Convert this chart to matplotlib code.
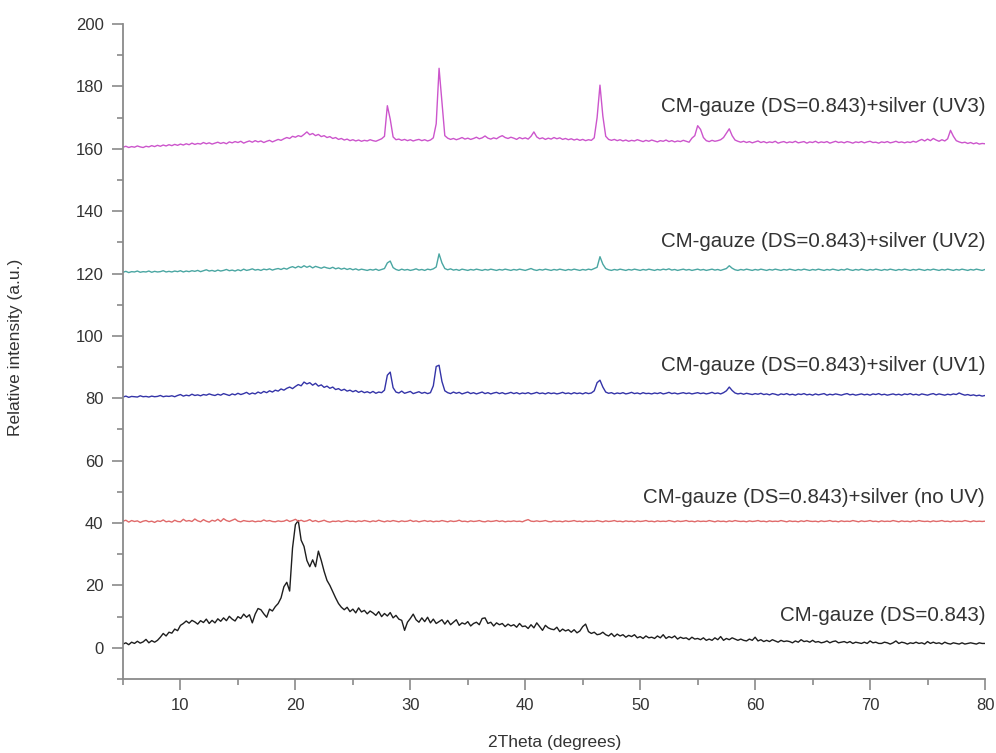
import numpy as np
import matplotlib
matplotlib.use("Agg")
import matplotlib.pyplot as plt
from matplotlib.ticker import MultipleLocator

plt.rcParams['font.family'] = ['Liberation Sans', 'DejaVu Sans']

# XRD scans, 5-80 deg in 0.25 deg steps (4 values per degree, 2 degrees per row)
two_theta = np.linspace(5, 80, 301)

gauze = [
    1.2, 1.6, 1.0, 1.8, 1.4, 2.1, 1.5, 1.9,
    2.7, 1.6, 2.3, 1.8, 2.4, 3.4, 4.6, 3.8,
    5.0, 4.7, 6.0, 5.5, 7.2, 7.8, 8.6, 7.9,
    8.8, 8.3, 7.6, 8.7, 8.1, 9.2, 7.8, 8.8,
    8.0, 9.3, 8.5, 9.6, 8.7, 10.1, 9.2, 8.6,
    10.0, 9.4, 10.8, 9.8, 10.6, 8.0, 10.8, 12.6,
    12.2, 10.9, 9.8, 12.4, 11.8, 13.2, 14.2, 16.0,
    19.6, 21.0, 18.2, 32.0, 39.5, 40.8, 34.5, 32.5,
    28.0, 26.0, 28.2, 26.0, 31.0, 28.0, 24.5, 21.6,
    20.0, 18.0, 16.0, 14.2, 13.0, 12.2, 13.0, 11.6,
    12.4, 11.2, 12.8, 11.5, 12.0, 10.9, 11.8, 11.2,
    10.4, 11.6, 10.0, 11.0, 10.2, 11.3, 9.6, 10.4,
    9.2, 8.8, 5.6, 8.2, 9.4, 10.8, 9.0, 8.2,
    9.6, 8.4, 9.8, 8.0, 9.2, 7.8, 8.4, 9.0,
    7.6, 8.8, 7.4, 8.2, 9.0, 7.2, 8.0, 7.6,
    8.4, 7.0, 7.8, 8.2, 7.4, 9.4, 9.6, 7.8,
    8.2, 7.0, 8.0, 7.4, 7.8, 6.8, 7.6, 7.0,
    7.4, 6.6, 7.8, 6.8, 7.0, 6.2, 7.4, 6.4,
    8.0, 6.8, 5.6, 7.2, 6.4, 6.0, 5.8, 6.6,
    5.2, 6.0, 5.4, 5.8, 5.0, 5.8, 4.8, 5.4,
    6.8, 7.6, 5.2, 4.6, 5.0, 4.2, 4.4, 5.0,
    4.2, 3.8, 4.6, 3.6, 4.4, 3.8, 4.2, 3.4,
    4.0, 3.6, 4.2, 3.2, 3.6, 3.0, 3.8, 3.2,
    3.4, 3.0, 3.8, 3.2, 4.2, 3.0, 3.6, 3.2,
    3.8, 2.8, 3.4, 3.0, 3.2, 2.6, 3.4, 2.8,
    3.0, 2.6, 3.2, 2.4, 2.8, 2.4, 3.2, 2.6,
    3.6, 2.4, 3.0, 2.6, 3.2, 2.8, 2.4, 2.8,
    2.4, 2.2, 2.8, 2.4, 3.4, 2.2, 2.6, 2.0,
    2.4, 2.0, 2.6, 2.2, 1.8, 2.4, 2.0, 2.2,
    2.0, 1.6, 2.2, 1.8, 2.6, 2.0, 2.2, 1.8,
    2.4, 1.8, 2.0, 1.6, 1.8, 2.2, 1.6, 2.0,
    2.2, 1.6, 1.8, 2.0, 1.6, 2.0, 1.4, 1.8,
    1.6, 1.4, 1.8, 1.4, 2.2, 1.6, 1.8, 1.4,
    1.4, 1.8, 1.6, 1.2, 1.6, 2.2, 1.4, 1.8,
    1.6, 1.2, 1.6, 1.4, 1.8, 1.4, 1.6, 1.2,
    2.0, 1.4, 1.8, 1.4, 1.6, 1.2, 1.8, 1.4,
    1.2, 1.6, 1.4, 1.2, 1.6, 1.2, 1.4, 1.6,
    1.4, 1.2, 1.6, 1.4, 1.4,
]

silver_no_uv = [
    40.6, 40.9, 40.3, 40.8, 40.5, 40.7, 40.2, 40.6,
    40.8, 40.4, 40.6, 40.2, 40.7, 40.5, 41.0, 40.4,
    40.6, 40.3, 40.9, 40.5, 40.4, 41.2, 40.6, 40.8,
    40.5, 41.3, 40.7, 40.4, 41.1, 40.6, 40.3, 40.9,
    40.6, 41.2, 40.5, 41.4, 40.8, 40.5, 40.9, 41.3,
    40.6, 40.4, 40.8, 40.6, 40.5, 40.7, 40.4, 40.6,
    40.5, 41.0, 40.6, 40.8, 40.5, 40.4, 40.7, 40.5,
    40.6, 41.0, 40.5, 40.8, 41.2, 40.6, 40.9, 40.5,
    40.7, 41.1, 40.5, 40.8, 40.4, 40.6, 40.9, 40.5,
    40.3, 40.6, 40.5, 40.7, 40.4, 40.6, 40.8, 40.5,
    40.6, 40.4, 40.7, 40.5, 40.8, 40.6, 40.4, 40.7,
    40.5, 40.9, 40.6, 40.4, 40.7, 40.5, 40.8, 40.6,
    40.4, 40.7, 40.5, 40.6, 40.9, 40.5, 40.7, 40.4,
    40.6, 40.8, 40.5, 40.7, 40.4, 40.6, 40.5, 40.8,
    40.6, 40.4, 40.7, 40.5, 40.6, 40.9, 40.5, 40.6,
    40.4, 40.7, 40.5, 40.6, 40.8, 40.5, 40.4, 40.7,
    40.5, 40.6, 40.8, 40.5, 40.7, 40.4, 40.6, 40.5,
    40.7, 40.5, 40.6, 40.4, 40.8, 41.1, 40.6, 40.5,
    40.7, 40.5, 40.6, 40.8, 40.5, 40.4, 40.7, 40.5,
    40.6, 40.4, 40.7, 40.5, 40.6, 40.8, 40.5, 40.6,
    40.4, 40.7, 40.5, 40.6, 40.5, 40.8, 40.6, 40.4,
    40.7, 40.5, 40.6, 40.8, 40.5, 40.6, 40.4, 40.7,
    40.5, 40.6, 40.4, 40.7, 40.5, 40.6, 40.8, 40.5,
    40.6, 40.4, 40.7, 40.5, 40.6, 40.5, 40.8, 40.6,
    40.4, 40.7, 40.5, 40.6, 40.8, 40.5, 40.6, 40.4,
    40.7, 40.5, 40.6, 40.5, 40.8, 40.6, 40.4, 40.7,
    40.5, 40.6, 40.4, 40.7, 40.5, 40.8, 40.6, 40.5,
    40.6, 40.4, 40.7, 40.5, 40.6, 40.8, 40.5, 40.6,
    40.4, 40.7, 40.5, 40.6, 40.5, 40.8, 40.6, 40.4,
    40.7, 40.5, 40.6, 40.4, 40.7, 40.5, 40.8, 40.6,
    40.5, 40.6, 40.4, 40.7, 40.5, 40.6, 40.8, 40.5,
    40.6, 40.4, 40.7, 40.5, 40.6, 40.5, 40.8, 40.6,
    40.4, 40.7, 40.5, 40.6, 40.8, 40.5, 40.6, 40.4,
    40.7, 40.5, 40.6, 40.5, 40.8, 40.6, 40.4, 40.7,
    40.5, 40.6, 40.4, 40.7, 40.5, 40.8, 40.6, 40.5,
    40.6, 40.4, 40.7, 40.5, 40.6, 40.8, 40.5, 40.6,
    40.4, 40.7, 40.5, 40.6, 40.5, 40.8, 40.6, 40.4,
    40.7, 40.5, 40.6, 40.5, 40.6,
]

silver_uv1 = [
    80.4, 80.7, 80.3, 80.6, 80.5, 80.4, 80.8, 80.5,
    80.6, 80.4, 80.7, 80.5, 80.6, 80.9, 80.5, 80.7,
    80.6, 80.8, 80.5, 80.9, 81.2, 80.7, 81.0, 80.8,
    81.3, 80.9, 81.1, 80.8, 81.2, 81.0, 81.4, 81.1,
    80.9, 81.3, 81.0, 81.5, 81.2, 80.9, 81.4, 81.1,
    81.6, 81.2, 81.5, 81.9, 81.3, 81.7, 81.4, 82.0,
    81.6, 82.2, 81.8, 82.4, 82.0, 82.6, 82.3, 83.0,
    82.6, 83.2, 83.6, 83.1, 83.8, 84.4, 84.0, 85.2,
    84.6, 85.0, 84.2, 84.8, 83.9, 84.3, 83.5, 83.9,
    83.2, 83.6, 82.8, 83.1, 82.5, 82.9, 82.3, 82.6,
    82.1, 82.5, 81.9, 82.3, 81.8, 82.1, 81.7, 82.2,
    81.6, 82.0, 81.8, 82.6, 87.4, 88.4, 83.4, 82.0,
    81.7, 82.3, 81.6, 81.9, 82.2, 81.5, 81.8, 82.1,
    81.6, 81.9, 81.5, 81.8, 84.0, 90.2, 90.6, 85.4,
    82.4, 81.8, 81.5, 82.0, 81.6, 81.9, 81.4, 81.7,
    82.0, 81.5, 81.8, 81.4, 81.7, 82.0, 81.5, 81.8,
    81.4, 81.7, 81.9, 81.5, 81.8, 81.4, 81.6, 81.9,
    81.5, 81.8, 81.4, 81.7, 81.5, 81.8, 81.4, 81.6,
    81.9, 81.5, 81.7, 81.4, 81.8, 81.5, 81.7, 81.4,
    81.6, 81.9, 81.5, 81.7, 81.4, 81.8, 81.5, 81.7,
    81.4, 81.8, 81.5, 81.7, 82.4, 85.0, 85.8, 83.6,
    82.0, 81.6, 81.8, 81.4, 81.7, 81.5, 81.8, 81.4,
    81.6, 81.9, 81.5, 81.7, 81.4, 81.8, 81.5, 81.6,
    81.4, 81.7, 81.5, 81.8, 81.4, 81.6, 81.9, 81.5,
    81.7, 81.4, 81.6, 81.8, 81.5, 81.7, 81.4, 81.6,
    81.8, 81.5, 81.7, 81.4, 81.6, 81.9, 81.5, 81.7,
    81.4, 81.8, 82.4, 83.6, 82.5, 81.7, 81.4, 81.6,
    81.3, 81.6, 81.4, 81.2, 81.5, 81.3, 81.6, 81.2,
    81.4, 81.1, 81.5, 81.3, 81.0, 81.4, 81.2, 81.5,
    81.1, 81.3, 81.0, 81.4, 81.2, 81.5, 81.1, 81.3,
    81.0, 81.4, 81.1, 81.3, 81.5, 81.0, 81.3, 81.1,
    81.4, 81.2, 81.0, 81.3, 81.5, 81.1, 81.3, 81.0,
    81.2, 81.4, 81.1, 81.3, 81.0, 81.4, 81.2, 81.5,
    81.1, 81.3, 81.0, 81.2, 81.4, 81.1, 81.3, 81.0,
    81.4, 81.2, 81.5, 81.1, 81.3, 81.0, 81.4, 81.2,
    81.0, 81.3, 81.5, 81.1, 81.4, 81.2, 81.0, 81.3,
    81.1, 81.4, 81.2, 81.7, 81.3, 81.0, 81.2, 80.9,
    81.1, 80.8, 81.0, 80.7, 80.9,
]

silver_uv2 = [
    120.4, 120.7, 120.3, 120.6, 120.5, 120.8, 120.4, 120.6,
    120.5, 120.8, 120.4, 120.7, 120.5, 120.6, 120.9, 120.5,
    120.7, 120.5, 120.8, 120.6, 120.9, 120.5, 120.8, 120.6,
    120.9, 120.7, 121.0, 120.6, 120.9, 121.2, 120.8, 121.0,
    120.7, 121.1, 120.8, 121.0, 121.3, 120.9, 121.1, 120.8,
    121.2, 120.9, 121.4, 121.0, 121.2, 121.5, 121.1, 121.3,
    121.0, 121.4, 121.2, 121.5, 121.1, 121.4, 121.6, 121.3,
    121.7, 121.4, 121.9, 122.2, 121.8, 122.3, 121.9, 122.5,
    122.0, 122.4, 121.8, 122.3, 122.0, 121.7, 122.1, 121.8,
    121.6, 122.0, 121.5, 121.8, 121.4, 121.7, 121.3, 121.6,
    121.2, 121.5, 121.1, 121.4, 121.2, 121.0, 121.3, 121.1,
    121.4, 121.0, 121.3, 121.6, 123.4, 124.0, 121.9, 121.3,
    121.0, 121.4, 121.1, 121.3, 121.0, 121.2, 121.5, 121.1,
    121.3, 121.0, 121.4, 121.2, 121.5, 122.1, 126.3, 123.4,
    121.6, 121.2, 121.5, 121.1, 121.3, 121.0, 121.4, 121.2,
    121.0, 121.3, 121.1, 121.4, 121.2, 121.0, 121.3, 121.1,
    121.4, 121.2, 121.0, 121.3, 121.1, 121.4, 121.2, 121.0,
    121.3, 121.1, 121.4, 121.2, 121.0, 121.3, 121.6, 121.2,
    121.0, 121.3, 121.1, 121.4, 121.2, 121.0, 121.3, 121.1,
    121.4, 121.2, 121.0, 121.3, 121.1, 121.4, 121.2, 121.0,
    121.3, 121.1, 121.4, 121.2, 121.6, 122.0, 125.4, 123.0,
    121.6, 121.2, 121.0, 121.3, 121.1, 121.4, 121.2, 121.0,
    121.3, 121.1, 121.4, 121.2, 121.0, 121.3, 121.1, 121.4,
    121.2, 121.0, 121.3, 121.1, 121.4, 121.2, 121.5, 121.1,
    121.3, 121.0, 121.2, 121.4, 121.1, 121.3, 121.0, 121.2,
    121.4, 121.1, 121.3, 121.0, 121.2, 121.4, 121.1, 121.3,
    121.0, 121.3, 121.6, 122.5, 121.7, 121.2, 121.0, 121.3,
    121.1, 121.4, 121.2, 121.0, 121.3, 121.1, 121.4, 121.2,
    121.0, 121.3, 121.1, 121.4, 121.2, 121.0, 121.3, 121.1,
    121.4, 121.2, 121.0, 121.3, 121.1, 121.4, 121.2, 121.0,
    121.3, 121.1, 121.4, 121.2, 121.0, 121.3, 121.1, 121.4,
    121.2, 121.0, 121.3, 121.1, 121.5, 121.2, 121.0, 121.3,
    121.1, 121.4, 121.2, 121.0, 121.3, 121.1, 121.4, 121.2,
    121.0, 121.3, 121.1, 121.4, 121.2, 121.0, 121.3, 121.1,
    121.4, 121.2, 121.0, 121.3, 121.1, 121.4, 121.2, 121.0,
    121.3, 121.1, 121.4, 121.2, 121.0, 121.3, 121.1, 121.4,
    121.2, 121.0, 121.3, 121.1, 121.4, 121.2, 121.0, 121.3,
    121.1, 121.4, 121.2, 121.0, 121.3,
]

silver_uv3 = [
    160.5, 160.8, 160.4, 160.7, 160.5, 160.9, 160.6, 160.4,
    160.8, 160.6, 161.0, 160.7, 161.1, 160.8, 161.2, 160.9,
    161.3, 161.0, 161.4, 161.1, 161.5, 161.2, 161.6, 161.3,
    161.8, 161.4, 161.7, 161.5, 162.0, 161.6, 161.9, 161.5,
    161.8, 162.1, 161.7, 162.0, 161.6, 162.2, 161.9, 162.3,
    162.0, 162.4, 161.8, 162.2, 162.5, 162.1, 162.6, 162.2,
    162.5, 162.0, 162.4, 162.7, 162.2, 162.6, 163.0, 162.7,
    163.2, 163.6, 163.3, 164.0, 163.7, 164.2, 163.9, 164.6,
    165.4, 164.5, 164.9, 164.2, 164.6, 163.9, 164.2, 163.6,
    163.9, 163.3, 163.6, 163.0, 163.3, 162.8, 163.1, 162.6,
    162.9, 162.5, 162.8, 162.4, 162.7, 162.5, 162.9, 162.6,
    162.4, 162.8, 163.2, 164.0, 173.8, 169.5, 163.8, 162.9,
    163.1, 162.7, 163.0, 162.6, 162.9, 162.5, 162.8, 163.0,
    162.6, 162.9, 162.5, 162.8, 163.5, 168.0, 185.8, 175.0,
    164.2, 163.4, 163.0, 163.3, 162.9, 163.2, 163.6, 163.1,
    163.4, 163.0, 163.3, 163.7, 163.2, 163.5, 164.1, 163.4,
    163.1, 163.5, 163.2, 163.8, 164.2, 163.6, 163.3, 163.7,
    163.4, 163.0, 163.6, 163.2, 163.5, 163.1, 164.0, 165.4,
    163.8, 163.2, 163.5, 163.0, 163.4, 163.1, 163.6, 163.2,
    163.5, 163.0, 163.3, 162.9, 163.2, 162.8, 163.1, 162.7,
    163.0, 162.6, 162.9, 162.7, 163.5, 170.0, 180.4, 170.5,
    164.0, 163.0, 162.7, 163.0, 162.6, 162.9, 162.5, 162.8,
    162.4, 162.7, 162.5, 162.9, 162.6, 162.3, 162.7, 162.4,
    162.8, 162.5, 162.2, 162.6, 162.4, 162.8, 162.3, 162.6,
    162.2, 162.5, 162.3, 162.7, 162.4, 162.1, 163.4, 164.2,
    167.4, 166.2, 163.6, 162.6, 162.3, 162.7, 162.4, 162.6,
    162.9, 163.6, 165.0, 166.4, 164.2, 162.8, 162.4, 162.1,
    162.4, 162.0, 162.3, 161.9, 162.2, 162.5, 162.0, 162.3,
    161.9, 162.2, 162.0, 162.4, 161.8, 162.1, 162.3, 161.9,
    162.2, 162.0, 162.4, 161.9, 162.1, 162.3, 161.8, 162.2,
    162.0, 162.4, 161.9, 162.2, 162.0, 162.3, 161.8, 162.1,
    162.4, 162.0, 162.2, 161.9, 162.3, 162.1, 161.8, 162.2,
    162.0, 162.3, 161.9, 162.2, 162.4, 162.0, 162.1, 161.8,
    162.2, 162.0, 162.3, 161.9, 162.1, 162.4, 162.0, 162.2,
    161.9, 162.2, 162.0, 162.4, 162.1, 162.6, 163.0, 162.5,
    163.1, 162.6, 163.3, 162.8, 162.4, 162.9, 162.5, 163.2,
    165.9, 164.0, 162.6, 162.2, 161.9, 162.1, 161.7, 162.0,
    161.6, 161.9, 161.5, 161.7, 161.6,
]

labels = [
    'CM-gauze (DS=0.843)',
    'CM-gauze (DS=0.843)+silver (no UV)',
    'CM-gauze (DS=0.843)+silver (UV1)',
    'CM-gauze (DS=0.843)+silver (UV2)',
    'CM-gauze (DS=0.843)+silver (UV3)',
]
label_y = [10.3, 48.2, 90.5, 130.3, 173.5]
colors = ['#1e1e1e', '#e06a6a', '#3434a8', '#4aa6a2', '#cc55cc']

series = [gauze, silver_no_uv, silver_uv1, silver_uv2, silver_uv3]

fig = plt.figure(figsize=(9.96, 7.53), dpi=100)
ax = fig.add_axes([123/996, 1 - 679/753, 862/996, 655/753])

for ys, c in zip(series, colors):
    assert len(ys) == len(two_theta)
    ax.plot(two_theta, ys, color=c, lw=1.0)

for txt, yy in zip(labels, label_y):
    ax.text(80, yy, txt, ha='right', va='center', fontsize=14.8, color='#333333')

ax.set_xlim(5, 80)
ax.set_ylim(-10, 200)
ax.xaxis.set_major_locator(MultipleLocator(10))
ax.xaxis.set_minor_locator(MultipleLocator(5))
ax.yaxis.set_major_locator(MultipleLocator(20))
ax.yaxis.set_minor_locator(MultipleLocator(10))

for side in ['top', 'right']:
    ax.spines[side].set_visible(False)
for side in ['left', 'bottom']:
    ax.spines[side].set_color('#8a8a8a')
    ax.spines[side].set_linewidth(1.3)

ax.tick_params(which='major', direction='out', length=8, width=1.2,
               color='#8a8a8a', labelcolor='#333333', labelsize=12, pad=6)
ax.tick_params(which='minor', direction='out', length=4, width=1.2, color='#8a8a8a')

fig.text(555/996, 1 - 743/753, '2Theta (degrees)', ha='center', va='center',
         fontsize=12.5, color='#333333')
fig.text(16/996, 1 - 347/753, 'Relative intensity (a.u.)', ha='center', va='center',
         rotation=90, fontsize=12.5, color='#333333')

fig.savefig('out.png', dpi=100)
